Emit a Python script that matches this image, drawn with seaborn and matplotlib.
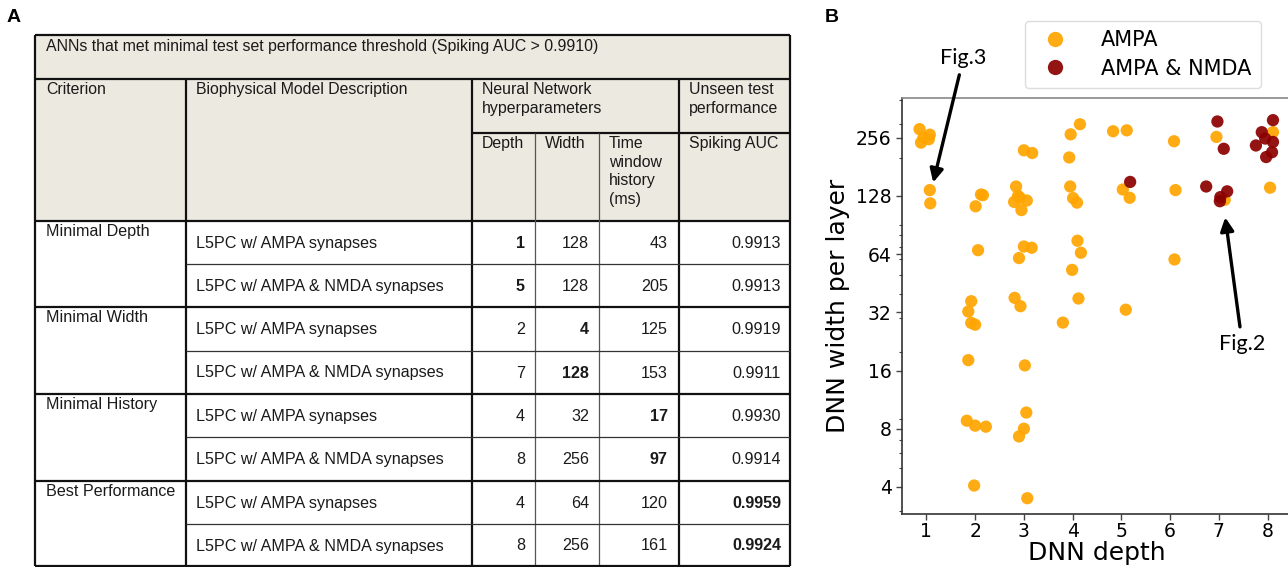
import numpy as np
import pandas as pd
import matplotlib
matplotlib.use("Agg")
import matplotlib.pyplot as plt
import seaborn as sns
from matplotlib.lines import Line2D
from matplotlib.patches import Rectangle
from matplotlib.ticker import FixedLocator, LogLocator, NullFormatter, FixedFormatter

# ---------------- Panel A: table contents ----------------
table_title = "ANNs that met minimal test set performance threshold (Spiking AUC > 0.9910)"
criteria = ["Minimal Depth", "Minimal Width", "Minimal History", "Best Performance"]
models = ["L5PC w/ AMPA synapses", "L5PC w/ AMPA & NMDA synapses"] * 4
depths = [1, 5, 2, 7, 4, 8, 4, 8]
widths = [128, 128, 4, 128, 32, 256, 64, 256]
histories = [43, 205, 125, 153, 17, 97, 120, 161]
aucs = ["0.9913", "0.9913", "0.9919", "0.9911", "0.9930", "0.9914", "0.9959", "0.9924"]

# ---------------- Panel B: DNN configurations ----------------
ampa_depth = [0.86, 1.07, 0.94, 1.05, 0.89, 1.07, 1.08,
              2.12, 2.16, 2.01, 2.06, 1.92, 1.86, 1.92, 2.00, 1.86, 1.83, 2.00, 2.22, 1.98,
              2.84, 2.88, 2.80, 2.92, 3.06, 2.95, 3.00, 3.17, 3.00, 3.16, 2.90, 2.81, 2.93,
              3.02, 3.05, 3.00, 2.90, 3.07,
              4.15, 3.96, 3.93, 3.95, 4.01, 4.09, 4.10, 4.17, 3.99, 4.12, 3.80,
              4.83, 5.11, 5.03, 5.17, 5.09,
              6.08, 6.11, 6.09,
              6.95, 7.12,
              8.11, 8.05]
ampa_width = [283, 265, 256, 251, 241, 137, 117,
              130, 129, 113, 67, 36.5, 32.3, 28.2, 27.6, 18.1, 8.8, 8.3, 8.2, 4.07,
              143, 128, 119, 125, 121, 108, 220, 213, 70, 69, 61, 38, 34.4,
              17, 9.7, 8.0, 7.3, 3.5,
              300, 266, 202, 143, 124.5, 118, 75, 65, 53, 37.7, 28.3,
              276, 279, 138, 125, 33,
              245, 137, 60,
              258, 122,
              273, 141]
nmda_depth = [6.97, 7.10, 5.18, 6.74, 7.17, 7.03, 7.02,
              8.11, 7.88, 7.95, 8.11, 7.76, 8.09, 7.97]
nmda_width = [310, 224, 151, 143, 135, 126, 120,
              315, 273, 253, 243, 233, 215, 203]
synapse_labels = ["AMPA", "AMPA & NMDA"]
synapse_colors = ["#FFA500", "#8B0000"]
width_ticks = [4, 8, 16, 32, 64, 128, 256]
depth_ticks = [1, 2, 3, 4, 5, 6, 7, 8]

df = pd.DataFrame({
    "depth": ampa_depth + nmda_depth,
    "width": ampa_width + nmda_width,
    "synapses": [synapse_labels[0]] * len(ampa_depth) + [synapse_labels[1]] * len(nmda_depth),
})

W, H = 1288, 567
fig = plt.figure(figsize=(W / 100, H / 100), dpi=100)

# ---------------- table drawn in pixel coordinates ----------------
ax_t = fig.add_axes([0, 0, 1, 1])
ax_t.set_xlim(0, W)
ax_t.set_ylim(H, 0)
ax_t.axis("off")

tfont = ["Liberation Sans", "DejaVu Sans"]
bfont = ["Liberation Sans Narrow", "Liberation Sans", "DejaVu Sans"]
ink = "#1a1a1a"
col_x = [35, 186, 472, 535, 599, 679, 790]
head_y = [35, 79, 133, 221]
row_y = [221, 264, 307, 350.5, 393.5, 437, 480.5, 524, 566]
beige = "#ECE9E0"
thick, thin = 1.6, 0.9

ax_t.add_patch(Rectangle((col_x[0], head_y[0]), col_x[-1] - col_x[0], head_y[-1] - head_y[0],
                         facecolor=beige, edgecolor="none", zorder=0))

def hline(y, x0, x1, lw, color="#111111"):
    ax_t.plot([x0, x1], [y, y], color=color, lw=lw, solid_capstyle="butt", zorder=2)

def vline(x, y0, y1, lw, color="#111111"):
    ax_t.plot([x, x], [y0, y1], color=color, lw=lw, solid_capstyle="butt", zorder=2)

# outer frame and header grid
hline(head_y[0], col_x[0], col_x[-1], thick)
hline(head_y[1], col_x[0], col_x[-1], thick)
hline(head_y[2], col_x[2], col_x[-1], thick)
hline(head_y[3], col_x[0], col_x[-1], thick)
vline(col_x[0], head_y[0], row_y[-1], thick)
vline(col_x[-1], head_y[0], row_y[-1], thick)
for cx in (col_x[1], col_x[2], col_x[5]):
    vline(cx, head_y[1], row_y[-1], thick)
for cx in (col_x[3], col_x[4]):
    vline(cx, head_y[2], row_y[-1], thin, color="#555555")
# body rows: thick lines between criteria, thin lines between models
for i, ry in enumerate(row_y[1:], start=1):
    if i % 2 == 0:
        hline(ry, col_x[0], col_x[-1], thick)
    else:
        hline(ry, col_x[1], col_x[-1], thin, color="#333333")

fs_h = 11.4
ls_h = 1.3
ax_t.text(46, 39, table_title, fontsize=fs_h, family=tfont, va="top", ha="left", color=ink)
ax_t.text(46, 82, "Criterion", fontsize=fs_h, family=tfont, va="top", color=ink)
ax_t.text(196, 82, "Biophysical Model Description", fontsize=fs_h, family=tfont, va="top", color=ink)
ax_t.text(482, 82, "Neural Network\nhyperparameters", fontsize=fs_h, family=tfont, va="top",
          linespacing=ls_h, color=ink)
ax_t.text(689, 82, "Unseen test\nperformance", fontsize=fs_h, family=tfont, va="top",
          linespacing=ls_h, color=ink)
ax_t.text(482, 136, "Depth", fontsize=fs_h, family=tfont, va="top", color=ink)
ax_t.text(545, 136, "Width", fontsize=fs_h, family=tfont, va="top", color=ink)
ax_t.text(609, 136, "Time\nwindow\nhistory\n(ms)", fontsize=fs_h, family=tfont, va="top",
          linespacing=ls_h, color=ink)
ax_t.text(689, 136, "Spiking AUC", fontsize=fs_h, family=tfont, va="top", color=ink)

fs_b = 11.6
for g, crit in enumerate(criteria):
    ax_t.text(46, row_y[2 * g] + 3, crit, fontsize=fs_b, family=bfont, va="top", color=ink)
num_right = [525, 589, 668, 781]
for r in range(len(models)):
    yc = (row_y[r] + row_y[r + 1]) / 2 + 1
    ax_t.text(196, yc, models[r], fontsize=fs_b, family=bfont, va="center", color=ink)
    bold_col = r // 2
    vals = [str(depths[r]), str(widths[r]), str(histories[r]), aucs[r]]
    for c, v in enumerate(vals):
        ax_t.text(num_right[c], yc, v, fontsize=fs_b, family=bfont, va="center", ha="right",
                  fontweight="bold" if c == bold_col else "normal", color=ink)

ax_t.text(14, 18, "A", fontsize=14, family=tfont, fontweight="bold", va="center", ha="center")
ax_t.text(832, 18, "B", fontsize=14, family=tfont, fontweight="bold", va="center", ha="center")

# ---------------- scatter panel ----------------
ax = fig.add_axes([902 / W, 1 - 514 / H, (W - 902 + 4) / W, (514 - 98) / H])
sns.scatterplot(data=df, x="depth", y="width", hue="synapses", hue_order=synapse_labels,
                palette=dict(zip(synapse_labels, synapse_colors)), s=78, alpha=0.92,
                edgecolor="none", linewidth=0, ax=ax, legend=False, zorder=3)
ax.set_yscale("log")
ax.set_xlim(0.5, 8.5)
ax.set_ylim(2.9, 410)
ax.yaxis.set_major_locator(FixedLocator(width_ticks))
ax.yaxis.set_major_formatter(FixedFormatter([str(t) for t in width_ticks]))
ax.yaxis.set_minor_locator(LogLocator(base=10, subs=np.arange(2, 10)))
ax.yaxis.set_minor_formatter(NullFormatter())
ax.set_xticks(depth_ticks)
ax.set_xticklabels([str(t) for t in depth_ticks])
ax.tick_params(axis="both", which="major", labelsize=13.5, length=4, width=1, color="#444444")
ax.tick_params(axis="x", which="major", pad=2)
ax.tick_params(axis="y", which="minor", length=2.5, width=0.8, color="#444444")
ax.set_xlabel("DNN depth", fontsize=18, labelpad=0)
ax.set_ylabel("DNN width per layer", fontsize=18, labelpad=4)
for side in ("left", "bottom"):
    ax.spines[side].set_color("#333333")
    ax.spines[side].set_linewidth(1.2)
ax.spines["top"].set_color("#888888")
ax.spines["top"].set_linewidth(1.2)
ax.spines["right"].set_visible(False)

arrow = dict(arrowstyle="-|>", color="black", lw=2.4, mutation_scale=20, shrinkA=3, shrinkB=0)
ax.annotate("Fig.3", xy=(1.14, 150), xytext=(1.76, 660), fontsize=15.5, family=["Lato", "DejaVu Sans"],
            ha="center", va="center", arrowprops=arrow, annotation_clip=False)
ax.annotate("Fig.2", xy=(7.13, 99), xytext=(7.48, 22), fontsize=15.5, family=["Lato", "DejaVu Sans"],
            ha="center", va="center", arrowprops=arrow, annotation_clip=False)

handles = [Line2D([], [], marker="o", linestyle="none", markersize=11, markeredgewidth=0,
                  markerfacecolor=c, alpha=0.92) for c in synapse_colors]
ax.legend(handles, synapse_labels, loc="center", bbox_to_anchor=(1143 / W, 1 - 54.5 / H),
          bbox_transform=fig.transFigure, fontsize=15, frameon=True, handletextpad=1.2,
          borderpad=0.45, labelspacing=0.4, edgecolor="#dddddd", framealpha=1)

fig.savefig("out.png", dpi=100)
